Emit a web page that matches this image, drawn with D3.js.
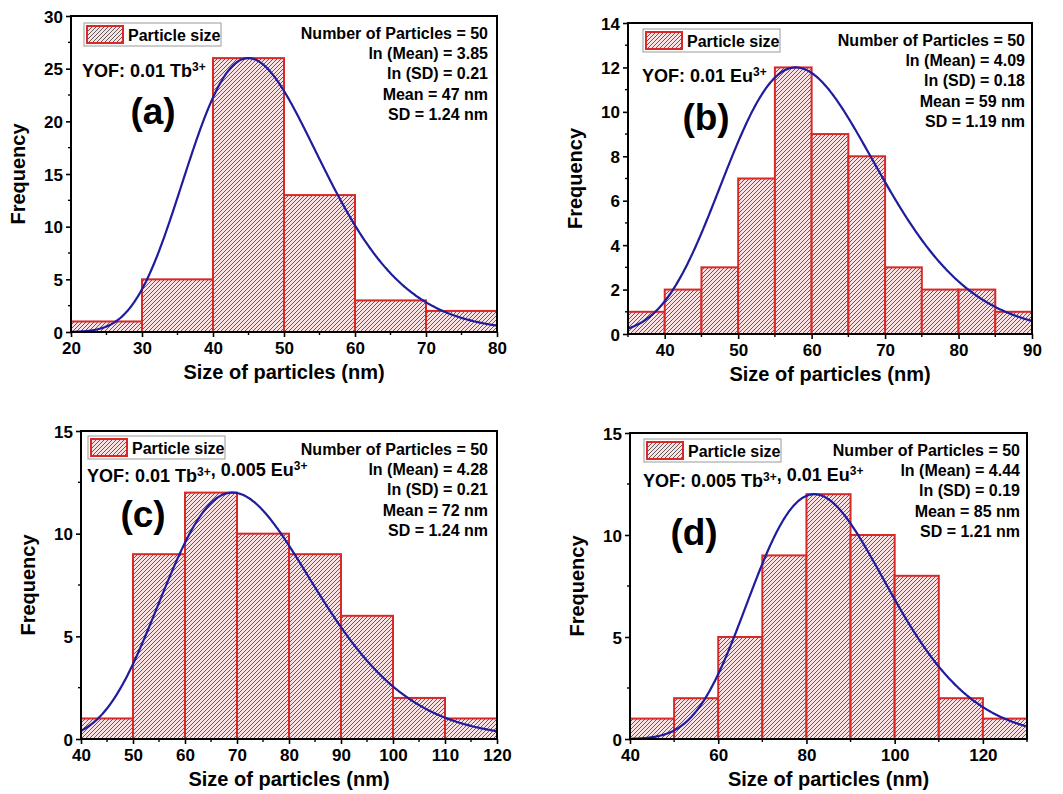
<!DOCTYPE html>
<html>
<head>
<meta charset="utf-8">
<script src="https://cdn.jsdelivr.net/npm/d3@7"></script>
<style>
  body { margin: 0; background: #fff; }
  svg { display: block; font-family: "Liberation Sans", Arial, sans-serif; font-weight: bold; }
</style>
</head>
<body>
<svg id="chart" width="1063" height="794"></svg>
<script>
// ---- Histogram data: bin edges (nm) and counts per sample ----
const binEdgesA = [20, 30, 40, 50, 60, 70, 80];
const countsA   = [1, 5, 26, 13, 3, 2];
const binEdgesB = [35, 40, 45, 50, 55, 60, 65, 70, 75, 80, 85, 90];
const countsB   = [1, 2, 3, 7, 12, 9, 8, 3, 2, 2, 1];
const binEdgesC = [40, 50, 60, 70, 80, 90, 100, 110, 120];
const countsC   = [1, 9, 12, 10, 9, 6, 2, 1];
const binEdgesD = [40, 50, 60, 70, 80, 90, 100, 110, 120, 130];
const countsD   = [1, 2, 5, 9, 12, 10, 8, 2, 1];

// ---- Log-normal fit results ----
const particleCounts = [50, 50, 50, 50];
const lnMeans  = [3.85, 4.09, 4.28, 4.44];
const lnSDs    = [0.21, 0.18, 0.21, 0.19];
const meansNm  = [47, 59, 72, 85];
const sdsNm    = [1.24, 1.19, 1.24, 1.21];
const fitPeaks = [26, 12, 12, 12];

// ---- Labels ----
const panelLetters = ["(a)", "(b)", "(c)", "(d)"];
const sampleLabels = [
  [["YOF: 0.01 Tb", "3+"]],
  [["YOF: 0.01 Eu", "3+"]],
  [["YOF: 0.01 Tb", "3+"], [", 0.005 Eu", "3+"]],
  [["YOF: 0.005 Tb", "3+"], [", 0.01 Eu", "3+"]]
];
const legendLabel = "Particle size";
const xTitle = "Size of particles (nm)";
const yTitle = "Frequency";

// ---- Axis domains and ticks ----
const xDomains = [[20, 80], [35, 90], [40, 120], [40, 130]];
const yDomains = [[0, 30], [0, 14], [0, 15], [0, 15]];
const xTicksA = [20, 30, 40, 50, 60, 70, 80];
const xTicksB = [40, 50, 60, 70, 80, 90];
const xTicksC = [40, 50, 60, 70, 80, 90, 100, 110, 120];
const xTicksD = [40, 60, 80, 100, 120];
const xMinorA = [25, 35, 45, 55, 65, 75];
const xMinorB = [35, 45, 55, 65, 75, 85];
const xMinorC = [45, 55, 65, 75, 85, 95, 105, 115];
const xMinorD = [50, 70, 90, 110, 130];
const yTicksA = [0, 5, 10, 15, 20, 25, 30];
const yTicksB = [0, 2, 4, 6, 8, 10, 12, 14];
const yTicksC = [0, 5, 10, 15];
const yTicksD = [0, 5, 10, 15];
const yMinorA = [2.5, 7.5, 12.5, 17.5, 22.5, 27.5];
const yMinorB = [1, 3, 5, 7, 9, 11, 13];
const yMinorC = [2.5, 7.5, 12.5];
const yMinorD = [2.5, 7.5, 12.5];

const binEdges = [binEdgesA, binEdgesB, binEdgesC, binEdgesD];
const counts   = [countsA, countsB, countsC, countsD];
const xTicks   = [xTicksA, xTicksB, xTicksC, xTicksD];
const xMinors  = [xMinorA, xMinorB, xMinorC, xMinorD];
const yTicks   = [yTicksA, yTicksB, yTicksC, yTicksD];
const yMinors  = [yMinorA, yMinorB, yMinorC, yMinorD];

// ---- Page layout (plot frames in px) ----
const frames = [
  { l: 71,  r: 497,  t: 16,  b: 332 },
  { l: 628, r: 1032, t: 23,  b: 334 },
  { l: 81,  r: 497,  t: 431, b: 739 },
  { l: 630, r: 1027, t: 433, b: 739 }
];
const legendPos  = [[84, 23], [643, 29], [88, 436], [644, 439]];
const samplePos  = [[82, 77], [642, 82], [87, 482], [643, 487]];
const letterPos  = [[153, 124], [706, 130], [143, 527], [694, 545]];
const statsPos   = [[488, 39], [1025, 46], [488, 455], [1020, 456]];
const statsGap   = 20.2;

const RED = "#d92828";
const PINK = "#fbe2e2";
const HATCH = "#4f4a4a";
const BLUE = "#1f1c9e";

const svg = d3.select("#chart");
const defs = svg.append("defs");

// Diagonal "/" hatch over a pale pink fill
const pat = defs.append("pattern")
  .attr("id", "hatch")
  .attr("patternUnits", "userSpaceOnUse")
  .attr("width", 4).attr("height", 4);
pat.append("rect").attr("width", 4).attr("height", 4).attr("fill", PINK);
pat.append("path")
  .attr("d", "M-1,1 L1,-1 M0,4 L4,0 M3,5 L5,3")
  .attr("stroke", HATCH).attr("stroke-width", 0.9);

function lognormalShape(x, mu, s) {
  return Math.exp(-Math.pow(Math.log(x) - mu, 2) / (2 * s * s)) / x;
}

frames.forEach((f, i) => {
  const g = svg.append("g");
  const x = d3.scaleLinear().domain(xDomains[i]).range([f.l, f.r]);
  const y = d3.scaleLinear().domain(yDomains[i]).range([f.b, f.t]);

  defs.append("clipPath").attr("id", "clip" + i)
    .append("rect").attr("x", f.l).attr("y", f.t)
    .attr("width", f.r - f.l).attr("height", f.b - f.t);

  // Histogram bars
  const bins = counts[i].map((c, k) => ({ x0: binEdges[i][k], x1: binEdges[i][k + 1], n: c }));
  g.append("g").selectAll("rect").data(bins).join("rect")
    .attr("x", d => x(d.x0))
    .attr("y", d => y(d.n))
    .attr("width", d => x(d.x1) - x(d.x0))
    .attr("height", d => y(0) - y(d.n))
    .attr("fill", "url(#hatch)")
    .attr("stroke", RED)
    .attr("stroke-width", 2);

  // Log-normal fit curve
  const mu = lnMeans[i], s = lnSDs[i];
  const mode = Math.exp(mu - s * s);
  const peakShape = lognormalShape(mode, mu, s);
  const [x0, x1] = xDomains[i];
  const xs = d3.range(x0, x1 + 1e-9, (x1 - x0) / 400);
  const line = d3.line()
    .x(v => x(v))
    .y(v => y(fitPeaks[i] * lognormalShape(v, mu, s) / peakShape));
  g.append("path")
    .attr("clip-path", `url(#clip${i})`)
    .attr("d", line(xs))
    .attr("fill", "none")
    .attr("stroke", BLUE)
    .attr("stroke-width", 2.2);

  // Axes
  const fontTick = "17px";
  const xAxis = g.append("g").attr("transform", `translate(0,${f.b})`)
    .call(d3.axisBottom(x).tickValues(xTicks[i]).tickFormat(d3.format("d")).tickSize(5).tickPadding(4));
  const yAxis = g.append("g").attr("transform", `translate(${f.l},0)`)
    .call(d3.axisLeft(y).tickValues(yTicks[i]).tickFormat(d3.format("d")).tickSize(5).tickPadding(3));
  [xAxis, yAxis].forEach(a => {
    a.select(".domain").remove();
    a.selectAll("line").attr("stroke", "#000").attr("stroke-width", 1.6);
    a.selectAll("text").attr("fill", "#000").style("font-size", fontTick)
      .style("font-weight", "bold").style("font-family", '"Liberation Sans", Arial, sans-serif');
  });
  xAxis.selectAll("text").attr("y", 10);
  yAxis.selectAll("text").attr("dy", "0.36em");

  // Minor ticks
  g.append("g").selectAll("line").data(xMinors[i]).join("line")
    .attr("x1", d => x(d)).attr("x2", d => x(d))
    .attr("y1", f.b).attr("y2", f.b + 3)
    .attr("stroke", "#000").attr("stroke-width", 1.4);
  g.append("g").selectAll("line").data(yMinors[i]).join("line")
    .attr("y1", d => y(d)).attr("y2", d => y(d))
    .attr("x1", f.l).attr("x2", f.l - 3)
    .attr("stroke", "#000").attr("stroke-width", 1.4);

  // Frame
  g.append("rect")
    .attr("x", f.l).attr("y", f.t)
    .attr("width", f.r - f.l).attr("height", f.b - f.t)
    .attr("fill", "none").attr("stroke", "#000").attr("stroke-width", 2);

  // Axis titles
  g.append("text")
    .attr("x", (f.l + f.r) / 2).attr("y", f.b + 47)
    .attr("text-anchor", "middle").style("font-size", "20px")
    .text(xTitle);
  g.append("text")
    .attr("transform", `translate(${f.l - 53},${(f.t + f.b) / 2}) rotate(-90)`)
    .attr("text-anchor", "middle").attr("dy", "0.36em")
    .style("font-size", "20px")
    .text(yTitle);

  // Legend
  const [lx, ly] = legendPos[i];
  const lg = g.append("g").attr("transform", `translate(${lx},${ly})`);
  lg.append("rect").attr("width", 137).attr("height", 23)
    .attr("fill", "#fff").attr("stroke", "#9a9a9a").attr("stroke-width", 1);
  lg.append("rect").attr("x", 3).attr("y", 3).attr("width", 36).attr("height", 17)
    .attr("fill", "url(#hatch)").attr("stroke", RED).attr("stroke-width", 2);
  lg.append("text").attr("x", 44).attr("y", 17.5)
    .style("font-size", "16px").text(legendLabel);

  // Sample composition label with superscripts
  const [sx, sy] = samplePos[i];
  const st = g.append("text").attr("x", sx).attr("y", sy).style("font-size", "18px");
  sampleLabels[i].forEach(([main, sup]) => {
    st.append("tspan").attr("dy", 0).text(main);
    st.append("tspan").attr("dy", -6).style("font-size", "12px").text(sup);
    st.append("tspan").attr("dy", 6).text("");
  });

  // Panel letter
  g.append("text")
    .attr("x", letterPos[i][0]).attr("y", letterPos[i][1])
    .attr("text-anchor", "middle").style("font-size", "37px")
    .text(panelLetters[i]);

  // Fit statistics
  const stats = [
    `Number of Particles = ${particleCounts[i]}`,
    `ln (Mean) = ${lnMeans[i].toFixed(2)}`,
    `ln (SD) = ${lnSDs[i].toFixed(2)}`,
    `Mean = ${meansNm[i]} nm`,
    `SD = ${sdsNm[i].toFixed(2)} nm`
  ];
  g.append("g").selectAll("text").data(stats).join("text")
    .attr("x", statsPos[i][0])
    .attr("y", (d, k) => statsPos[i][1] + k * statsGap)
    .attr("text-anchor", "end")
    .style("font-size", "16px")
    .text(d => d);
});
</script>
</body>
</html>
